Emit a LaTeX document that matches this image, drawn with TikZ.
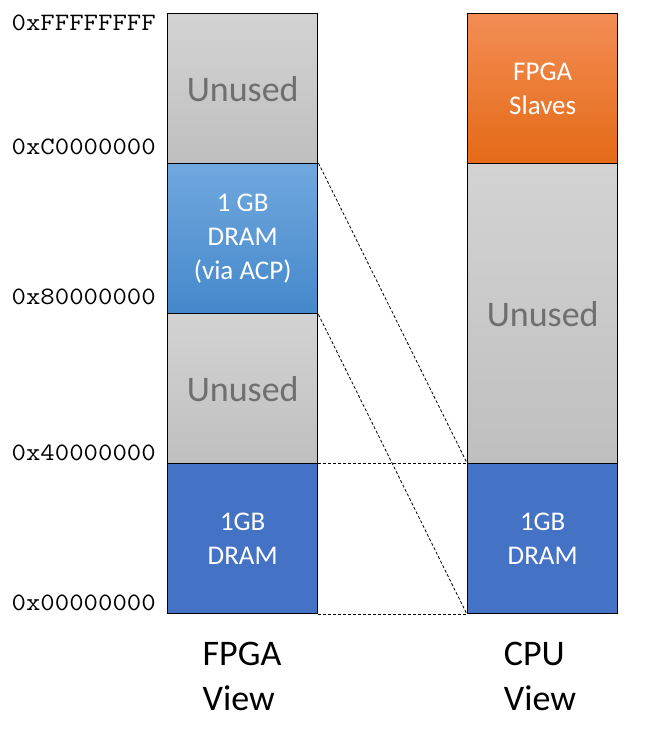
\documentclass[tikz,border=0pt]{standalone}
\usepackage{fontspec}
\setmainfont{Carlito}
\newfontfamily\monofnt[FakeStretch=1.12]{Latin Modern Mono}
\definecolor{grayTop}{HTML}{D3D3D3}
\definecolor{grayBot}{HTML}{BFBFBF}
\definecolor{acpTop}{HTML}{70A8DE}
\definecolor{acpBot}{HTML}{4588CB}
\definecolor{dramBlue}{HTML}{4472C4}
\definecolor{orTop}{HTML}{F38D55}
\definecolor{orBot}{HTML}{E46A16}
\definecolor{unusedText}{HTML}{6F6F6F}
\tikzset{
  memblk/.style={draw=black, line width=1.4pt, rectangle, anchor=north west,
    minimum width=150pt, inner sep=0pt, align=center},
  unusedblk/.style={memblk, top color=grayTop, bottom color=grayBot,
    text=unusedText, font=\fontsize{36}{44}\selectfont},
  acpblk/.style={memblk, top color=acpTop, bottom color=acpBot, text=white,
    font=\fontsize{27}{34}\selectfont},
  darkblk/.style={memblk, fill=dramBlue, text=white, font=\fontsize{27}{34}\selectfont},
  orangeblk/.style={memblk, top color=orTop, bottom color=orBot, text=white,
    font=\fontsize{27}{34}\selectfont},
  addr/.style={anchor=east, inner sep=0pt, font=\monofnt\fontsize{25}{28}\selectfont},
  viewlbl/.style={anchor=north, inner sep=0pt, align=left, font=\fontsize{36}{45}\selectfont},
  mapline/.style={draw=black, line width=0.8pt, dash pattern=on 3pt off 2pt}
}
\begin{document}
\begin{tikzpicture}[x=1pt,y=-1pt]
\useasboundingbox (0,0) rectangle (654,736);
% FPGA view column
\node[unusedblk, minimum height=150pt] (lun1) at (167,13) {Unused};
\node[acpblk, minimum height=150pt] (lacp) at (167,163) {1 GB\\DRAM\\(via ACP)};
\node[unusedblk, minimum height=150pt] (lun2) at (167,313) {Unused};
\node[darkblk, minimum height=150pt] (ldram) at (167,463) {1GB\\DRAM};
% CPU view column
\node[orangeblk, minimum height=150pt] (rfpga) at (467,13) {FPGA\\Slaves};
\node[unusedblk, minimum height=300pt] (run) at (467,163) {Unused};
\node[darkblk, minimum height=150pt] (rdram) at (467,463) {1GB\\DRAM};
% address labels
\node[addr] (aF) at (156,23) {0xFFFFFFFF};
\node[addr] (aC) at (156,147) {0xC0000000};
\node[addr] (a8) at (156,297) {0x80000000};
\node[addr] (a4) at (156,453) {0x40000000};
\node[addr] (a0) at (156,603) {0x00000000};
% mapping lines
\draw[mapline] (lacp.north east) -- (rdram.north west);
\draw[mapline] (lacp.south east) -- (rdram.south west);
\draw[mapline] (ldram.north east) -- (rdram.north west);
\draw[mapline] (ldram.south east) -- (rdram.south west);
% view labels
\node[viewlbl] (fv) at (242,642) {FPGA\\View};
\node[viewlbl] (cv) at (540,642) {CPU\\View};
\end{tikzpicture}
\end{document}
